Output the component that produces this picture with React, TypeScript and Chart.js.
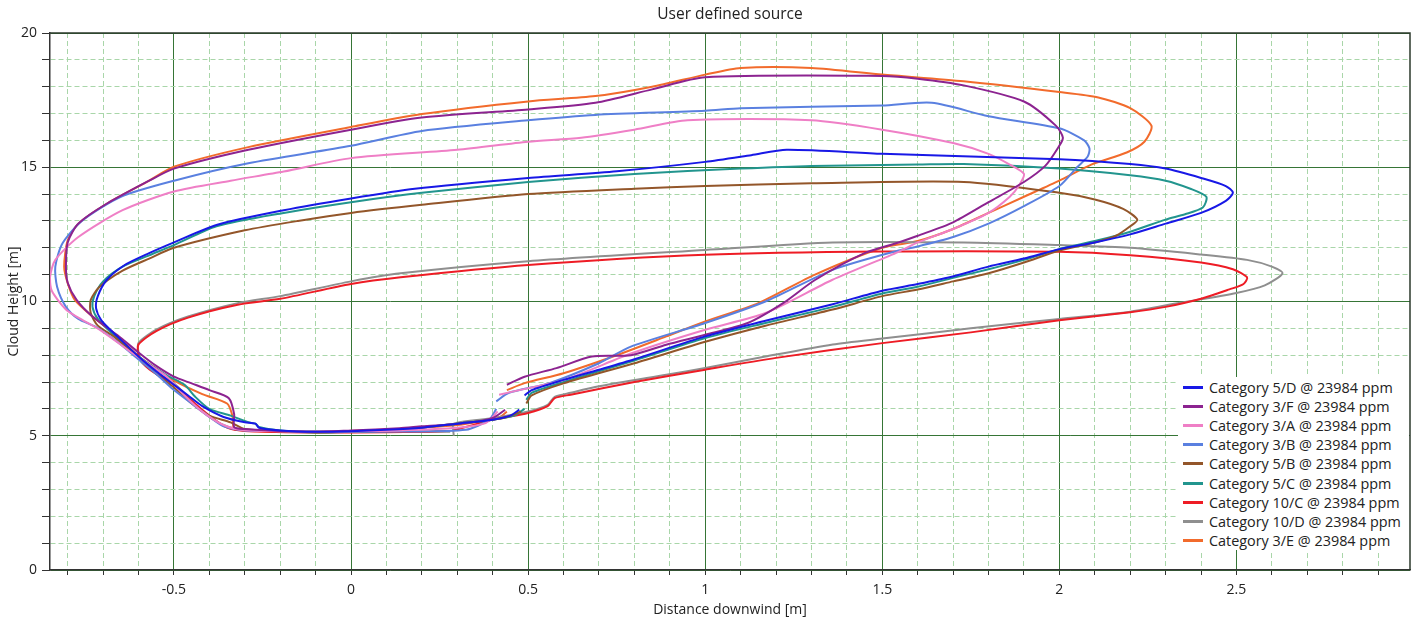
import React, { useEffect, useRef } from "react";
import { Chart, registerables } from "chart.js";

Chart.register(...registerables);

const TITLE = "User defined source";
const X_TITLE = "Distance downwind [m]";
const Y_TITLE = "Cloud Height [m]";
const X_MIN = -0.85;
const X_MAX = 2.99;
const Y_MIN = 0;
const Y_MAX = 20;
const X_STEP = 0.1;
const X_MAJOR = 0.5;
const Y_STEP = 1;
const Y_MAJOR = 5;

const SERIES_LABELS = [
  "Category 5/D @ 23984 ppm",
  "Category 3/F @ 23984 ppm",
  "Category 3/A @ 23984 ppm",
  "Category 3/B @ 23984 ppm",
  "Category 5/B @ 23984 ppm",
  "Category 5/C @ 23984 ppm",
  "Category 10/C @ 23984 ppm",
  "Category 10/D @ 23984 ppm",
  "Category 3/E @ 23984 ppm",
];

const SERIES_COLORS = [
  "#1818e6",
  "#8c2390",
  "#ef7fc6",
  "#5a80e0",
  "#93562a",
  "#22958e",
  "#ee1c25",
  "#8f8f8f",
  "#f26b2c",
];

const cat5D: number[][] = [
  [0.475, 5.97], [0.45, 5.75], [0.4, 5.6], [0.3, 5.45], [0.2, 5.3], [0.1, 5.22], [0, 5.17], [-0.1, 5.15],
  [-0.2, 5.2], [-0.26, 5.3], [-0.27, 5.45], [-0.3, 5.5], [-0.36, 5.7], [-0.42, 6.1], [-0.46, 6.5], [-0.5, 6.9],
  [-0.55, 7.4], [-0.6, 7.95], [-0.66, 8.7], [-0.705, 9.3], [-0.72, 9.75], [-0.715, 10.2], [-0.69, 10.8],
  [-0.64, 11.35], [-0.57, 11.8], [-0.5, 12.2], [-0.38, 12.85], [-0.19, 13.4], [0, 13.84], [0.18, 14.2],
  [0.5, 14.6], [0.75, 14.85], [1.0, 15.2], [1.13, 15.45], [1.23, 15.65], [1.5, 15.5], [2.0, 15.3], [2.2, 15.12],
  [2.3, 14.95], [2.4, 14.6], [2.47, 14.3], [2.49, 14.05], [2.47, 13.75], [2.4, 13.3], [2.3, 12.9], [2.2, 12.5],
  [2.1, 12.2], [2.0, 11.95], [1.9, 11.6], [1.8, 11.3], [1.69, 10.9], [1.6, 10.65], [1.5, 10.4], [1.36, 9.9],
  [1.17, 9.28], [1.0, 8.7], [0.8, 7.85], [0.7, 7.46], [0.6, 7.08], [0.51, 6.7], [0.49, 6.5],
];

const cat3F: number[][] = [
  [0.435, 5.97], [0.4, 5.66], [0.324, 5.47], [0.2, 5.35], [0.136, 5.28], [0, 5.2], [-0.1, 5.15], [-0.2, 5.18],
  [-0.3, 5.25], [-0.33, 5.32], [-0.33, 5.8], [-0.345, 6.4], [-0.4, 6.7], [-0.45, 6.95], [-0.5, 7.2],
  [-0.55, 7.6], [-0.6, 8.1], [-0.66, 8.75], [-0.73, 9.44], [-0.775, 10.06], [-0.8, 10.7], [-0.805, 11.3],
  [-0.8, 12.2], [-0.77, 12.9], [-0.69, 13.64], [-0.57, 14.5], [-0.5, 14.95], [-0.29, 15.65], [0, 16.4],
  [0.2, 16.85], [0.5, 17.15], [0.69, 17.4], [0.85, 17.9], [1.0, 18.35], [1.5, 18.4], [1.6, 18.3], [1.73, 18.05],
  [1.9, 17.45], [1.99, 16.55], [2.01, 16.1], [1.995, 15.7], [1.96, 15.05], [1.9, 14.45], [1.8, 13.7],
  [1.7, 12.95], [1.6, 12.45], [1.546, 12.2], [1.45, 11.8], [1.31, 10.8], [1.22, 9.94], [1.12, 9.2], [1.0, 8.76],
  [0.89, 8.39], [0.79, 8.0], [0.68, 7.95], [0.58, 7.52], [0.49, 7.2], [0.44, 6.9],
];

const cat3A: number[][] = [
  [0.414, 5.9], [0.38, 5.47], [0.3, 5.3], [0.136, 5.2], [0, 5.17], [-0.1, 5.15], [-0.2, 5.17], [-0.3, 5.2],
  [-0.36, 5.4], [-0.42, 5.9], [-0.47, 6.5], [-0.52, 7.2], [-0.57, 7.65], [-0.62, 8.1], [-0.71, 8.95],
  [-0.77, 9.4], [-0.805, 9.7], [-0.845, 10.4], [-0.85, 10.9], [-0.835, 11.55], [-0.77, 12.4], [-0.645, 13.4],
  [-0.5, 14.1], [-0.34, 14.5], [-0.19, 14.84], [0, 15.34], [0.3, 15.65], [0.5, 15.95], [0.65, 16.1],
  [0.8, 16.4], [0.95, 16.75], [1.3, 16.75], [1.5, 16.4], [1.7, 15.9], [1.8, 15.5], [1.86, 15.1], [1.9, 14.75],
  [1.885, 14.3], [1.86, 13.9], [1.8, 13.3], [1.7, 12.7], [1.6, 12.2], [1.546, 11.85], [1.358, 10.8],
  [1.17, 9.57], [1.0, 8.95], [0.794, 8.08], [0.606, 7.1], [0.475, 6.7], [0.418, 6.53],
];

const cat3B: number[][] = [
  [0.41, 6.0], [0.39, 5.6], [0.324, 5.22], [0.136, 5.16], [0, 5.15], [-0.1, 5.15], [-0.2, 5.17], [-0.3, 5.2],
  [-0.36, 5.35], [-0.4, 5.7], [-0.45, 6.2], [-0.5, 6.7], [-0.55, 7.3], [-0.6, 7.84], [-0.66, 8.5],
  [-0.72, 9.05], [-0.77, 9.35], [-0.805, 9.8], [-0.83, 10.55], [-0.835, 11.3], [-0.815, 12.16], [-0.76, 13.0],
  [-0.65, 13.9], [-0.5, 14.5], [-0.29, 15.15], [0, 15.8], [0.2, 16.35], [0.5, 16.75], [0.69, 16.95],
  [1.0, 17.1], [1.1, 17.2], [1.5, 17.3], [1.64, 17.4], [1.8, 16.9], [2.0, 16.45], [2.07, 16.0], [2.085, 15.7],
  [2.08, 15.4], [2.05, 15.0], [2.0, 14.3], [1.9, 13.55], [1.8, 12.9], [1.7, 12.4], [1.6, 12.05], [1.546, 11.9],
  [1.36, 11.18], [1.17, 10.0], [1.0, 9.2], [0.79, 8.32], [0.7, 7.7], [0.56, 6.96], [0.446, 6.6], [0.41, 6.28],
];

const cat5B: number[][] = [
  [0.48, 5.9], [0.44, 5.7], [0.4, 5.6], [0.3, 5.45], [0.2, 5.3], [0.1, 5.2], [0, 5.15], [-0.1, 5.12],
  [-0.2, 5.18], [-0.3, 5.25], [-0.34, 5.5], [-0.4, 5.75], [-0.45, 6.2], [-0.5, 6.8], [-0.55, 7.3], [-0.6, 7.9],
  [-0.67, 8.7], [-0.715, 9.1], [-0.735, 9.57], [-0.735, 10.06], [-0.71, 10.55], [-0.645, 11.15], [-0.57, 11.6],
  [-0.5, 12.0], [-0.3, 12.65], [-0.15, 13.0], [0, 13.3], [0.2, 13.6], [0.5, 14.0], [0.8, 14.2], [1.0, 14.3],
  [1.3, 14.4], [1.73, 14.45], [2.0, 14.05], [2.1, 13.8], [2.18, 13.45], [2.22, 13.05], [2.2, 12.8],
  [2.16, 12.45], [2.1, 12.2], [2.0, 11.9], [1.9, 11.45], [1.8, 11.05], [1.7, 10.75], [1.6, 10.45], [1.5, 10.2],
  [1.36, 9.7], [1.17, 9.1], [1.0, 8.5], [0.8, 7.7], [0.6, 6.95], [0.51, 6.5], [0.495, 6.2],
];

const cat5C: number[][] = [
  [0.49, 6.0], [0.46, 5.75], [0.4, 5.6], [0.3, 5.45], [0.2, 5.3], [0.1, 5.2], [0, 5.15], [-0.1, 5.12],
  [-0.2, 5.2], [-0.26, 5.33], [-0.27, 5.45], [-0.29, 5.5], [-0.34, 5.75], [-0.4, 6.0], [-0.44, 6.45],
  [-0.47, 6.9], [-0.52, 7.25], [-0.6, 7.95], [-0.67, 8.75], [-0.715, 9.35], [-0.73, 9.8], [-0.725, 10.2],
  [-0.7, 10.75], [-0.645, 11.3], [-0.57, 11.72], [-0.5, 12.1], [-0.38, 12.8], [-0.19, 13.3], [0, 13.7],
  [0.2, 14.05], [0.5, 14.45], [0.8, 14.75], [1.1, 14.95], [1.3, 15.05], [1.6, 15.1], [1.73, 15.12], [2.0, 14.95],
  [2.2, 14.7], [2.3, 14.5], [2.37, 14.2], [2.415, 13.9], [2.405, 13.5], [2.355, 13.25], [2.3, 13.05],
  [2.2, 12.6], [2.1, 12.25], [2.0, 11.95], [1.9, 11.55], [1.8, 11.2], [1.7, 10.88], [1.6, 10.55], [1.5, 10.3],
  [1.36, 9.8], [1.17, 9.2], [1.0, 8.64], [0.8, 7.8], [0.6, 7.0], [0.51, 6.6], [0.495, 6.34],
];

const cat10C: number[][] = [
  [0.29, 5.2], [0.4, 5.6], [0.5, 5.85], [0.555, 6.1], [0.575, 6.4], [0.62, 6.53], [0.8, 7.0], [1.0, 7.46],
  [1.2, 7.9], [1.5, 8.45], [1.75, 8.85], [2.0, 9.3], [2.2, 9.6], [2.3, 9.8], [2.4, 10.1], [2.48, 10.45],
  [2.52, 10.65], [2.53, 10.9], [2.49, 11.2], [2.4, 11.45], [2.2, 11.72], [2.0, 11.85], [1.5, 11.86],
  [1.0, 11.74], [0.5, 11.36], [0.14, 10.9], [0, 10.65], [-0.2, 10.1], [-0.32, 9.88], [-0.46, 9.4],
  [-0.55, 8.9], [-0.6, 8.4], [-0.6, 8.0], [-0.58, 7.6], [-0.55, 7.3], [-0.5, 6.9], [-0.45, 6.3], [-0.4, 5.75],
  [-0.35, 5.3], [-0.3, 5.18], [-0.1, 5.12], [0, 5.12], [0.2, 5.15], [0.27, 5.18],
];

const cat10D: number[][] = [
  [0.29, 5.0], [0.29, 5.45], [0.4, 5.65], [0.5, 5.9], [0.555, 6.15], [0.575, 6.45], [0.62, 6.6], [0.7, 6.84],
  [0.89, 7.27], [1.0, 7.52], [1.17, 7.95], [1.36, 8.4], [1.5, 8.62], [1.75, 9.0], [2.0, 9.35], [2.2, 9.62],
  [2.34, 9.95], [2.5, 10.32], [2.58, 10.6], [2.63, 11.05], [2.6, 11.3], [2.53, 11.55], [2.4, 11.75],
  [2.2, 12.0], [2.0, 12.1], [1.73, 12.2], [1.36, 12.2], [1.0, 11.92], [0.5, 11.5], [0.14, 11.05], [0, 10.75],
  [-0.2, 10.2], [-0.32, 9.94], [-0.46, 9.44], [-0.55, 8.95], [-0.6, 8.46], [-0.6, 8.1], [-0.59, 7.72],
  [-0.55, 7.35], [-0.5, 6.95], [-0.45, 6.3], [-0.4, 5.7], [-0.35, 5.35], [-0.3, 5.22], [-0.2, 5.18], [0, 5.15],
  [0.2, 5.15], [0.28, 5.15],
];

const cat3E: number[][] = [
  [0.44, 5.9], [0.42, 5.7], [0.37, 5.55], [0.3, 5.4], [0.2, 5.3], [0.1, 5.22], [0, 5.18], [-0.1, 5.15],
  [-0.2, 5.15], [-0.29, 5.2], [-0.33, 5.25], [-0.335, 5.75], [-0.35, 6.2], [-0.42, 6.55], [-0.5, 7.05],
  [-0.55, 7.5], [-0.6, 7.96], [-0.66, 8.7], [-0.73, 9.44], [-0.78, 10.06], [-0.8, 10.68], [-0.81, 11.3],
  [-0.8, 12.28], [-0.77, 12.9], [-0.69, 13.64], [-0.57, 14.5], [-0.5, 15.02], [-0.29, 15.75], [0, 16.5],
  [0.2, 16.98], [0.5, 17.45], [0.69, 17.65], [0.85, 18.0], [1.0, 18.45], [1.1, 18.7], [1.3, 18.7], [1.5, 18.45],
  [1.73, 18.2], [2.0, 17.8], [2.11, 17.6], [2.2, 17.2], [2.26, 16.55], [2.24, 15.95], [2.19, 15.55],
  [2.09, 15.1], [2.0, 14.5], [1.9, 13.9], [1.8, 13.3], [1.7, 12.7], [1.6, 12.25], [1.5, 12.0], [1.31, 11.0],
  [1.15, 9.94], [1.0, 9.26], [0.89, 8.7], [0.75, 8.0], [0.6, 7.33], [0.49, 6.96], [0.44, 6.7],
];

const SERIES_POINTS = [cat5D, cat3F, cat3A, cat3B, cat5B, cat5C, cat10C, cat10D, cat3E];

const FONT = "'Open Sans', 'Noto Sans', 'DejaVu Sans', sans-serif";
const MAJOR_GRID = "#367536";
const MINOR_GRID = "#a9d6a9";
const AXIS_COLOR = "#333333";
const TEXT_COLOR = "#222222";

const isMajor = (v: number, m: number) => Math.abs(v / m - Math.round(v / m)) < 1e-6;
const fmt = (v: number) => String(Math.round(v * 1000) / 1000);

const framePlugin = {
  id: "frame",
  afterDatasetsDraw(chart: any) {
    const { ctx, chartArea } = chart;
    ctx.save();
    ctx.strokeStyle = "#2c3a2c";
    ctx.lineWidth = 1.5;
    ctx.beginPath();
    ctx.moveTo(chartArea.left, chartArea.top);
    ctx.lineTo(chartArea.right, chartArea.top);
    ctx.lineTo(chartArea.right, chartArea.bottom);
    ctx.stroke();
    ctx.restore();
  },
};

// Chart title centred over the plotting area (as in the reference)
const areaTitlePlugin = {
  id: "areaTitle",
  afterDraw(chart: any) {
    const { ctx, chartArea } = chart;
    ctx.save();
    ctx.fillStyle = TEXT_COLOR;
    ctx.font = `normal 15.5px ${FONT}`;
    ctx.textAlign = "center";
    ctx.textBaseline = "middle";
    ctx.fillText(TITLE, (chartArea.left + chartArea.right) / 2, 15);
    ctx.restore();
  },
};

export default function App() {
  const canvasRef = useRef<HTMLCanvasElement | null>(null);

  useEffect(() => {
    document.body.style.margin = "0";
    document.body.style.overflow = "hidden";
    const canvas = canvasRef.current;
    if (!canvas) return;
    const datasets = SERIES_POINTS.map((pts, i) => ({
      label: SERIES_LABELS[i],
      data: pts.map((p) => ({ x: p[0], y: p[1] })),
      borderColor: SERIES_COLORS[i],
      backgroundColor: SERIES_COLORS[i],
      borderWidth: 2,
      pointRadius: 0,
      showLine: true,
      fill: false,
      tension: 0.25,
    }));

    const chart = new Chart(canvas, {
      type: "scatter",
      data: { datasets },
      plugins: [framePlugin, areaTitlePlugin],
      options: {
        animation: false,
        responsive: false,
        devicePixelRatio: 1,
        layout: { padding: { left: 0, right: 7, top: 33, bottom: 0 } },
        plugins: {
          legend: { display: false },
          tooltip: { enabled: false },
          title: { display: false },
        },
        scales: {
          x: {
            type: "linear",
            min: X_MIN,
            max: X_MAX,
            afterFit: (s: any) => {
              s.height = 52;
            },
            ticks: {
              stepSize: X_STEP,
              includeBounds: false,
              autoSkip: false,
              maxRotation: 0,
              padding: 7,
              color: TEXT_COLOR,
              font: { family: FONT, size: 14 },
              callback: (v: any) => (isMajor(Number(v), X_MAJOR) ? fmt(Number(v)) : ""),
            },
            grid: {
              color: (c: any) => (c.tick && isMajor(c.tick.value, X_MAJOR) ? MAJOR_GRID : MINOR_GRID),
              lineWidth: 1,
              drawTicks: true,
              tickLength: 5,
              tickColor: AXIS_COLOR,
              tickBorderDash: [],
            },
            border: {
              display: true,
              color: AXIS_COLOR,
              width: 1.5,
              dash: (c: any) => (c.tick && !isMajor(c.tick.value, X_MAJOR) ? [5, 3] : []),
            },
            title: {
              display: true,
              text: X_TITLE,
              color: TEXT_COLOR,
              font: { family: FONT, size: 14 },
              padding: { top: 0, bottom: 4 },
            },
          },
          y: {
            type: "linear",
            min: Y_MIN,
            max: Y_MAX,
            afterFit: (s: any) => {
              s.width = 50;
            },
            ticks: {
              stepSize: Y_STEP,
              autoSkip: false,
              padding: 5,
              color: TEXT_COLOR,
              font: { family: FONT, size: 14 },
              callback: (v: any) => (isMajor(Number(v), Y_MAJOR) ? fmt(Number(v)) : ""),
            },
            grid: {
              color: (c: any) => (c.tick && isMajor(c.tick.value, Y_MAJOR) ? MAJOR_GRID : MINOR_GRID),
              lineWidth: 1,
              drawTicks: true,
              tickLength: 8,
              tickColor: AXIS_COLOR,
              tickBorderDash: [],
            },
            border: {
              display: true,
              color: AXIS_COLOR,
              width: 1.5,
              dash: (c: any) => (c.tick && !isMajor(c.tick.value, Y_MAJOR) ? [5, 3] : []),
            },
            title: {
              display: true,
              text: Y_TITLE,
              color: TEXT_COLOR,
              font: { family: FONT, size: 14 },
              padding: { top: 6, bottom: 0 },
            },
          },
        },
      },
    } as any);

    return () => {
      chart.destroy();
    };
  }, []);

  return (
    <div style={{ position: "relative", width: 1417, height: 622, background: "#fff" }}>
      <canvas ref={canvasRef} width={1417} height={622} style={{ display: "block", width: 1417, height: 622 }} />
      <div
        style={{
          position: "absolute",
          left: 1178,
          top: 377,
          width: 231,
          height: 173,
          background: "#ffffff",
          fontFamily: FONT,
          fontSize: 14.4,
          color: TEXT_COLOR,
          boxSizing: "border-box",
          paddingTop: 1,
        }}
      >
        {SERIES_LABELS.map((label, i) => (
          <div key={label} style={{ display: "flex", alignItems: "center", height: 19.1, whiteSpace: "nowrap" }}>
            <span
              style={{
                display: "inline-block",
                width: 20,
                height: 3,
                background: SERIES_COLORS[i],
                marginLeft: 5,
                marginRight: 6,
              }}
            />
            <span>{label}</span>
          </div>
        ))}
      </div>
    </div>
  );
}
